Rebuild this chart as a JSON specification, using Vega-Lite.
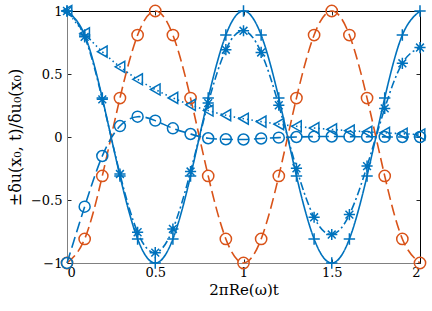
{
 "$schema": "https://vega.github.io/schema/vega-lite/v6.json",
 "width": 353, "height": 252,
 "autosize": "none",
 "padding": {"left": 67, "top": 11, "right": 12, "bottom": 48},
 "background": "white",
 "config": {"view": {"stroke": null}, "axis": {"labelFont": "DejaVu Serif", "titleFont": "DejaVu Serif", "labelFontSize": 13, "titleFontSize": 15, "labelColor": "#000", "titleColor": "#000", "titleFontWeight": "normal", "grid": false, "tickColor": "#262626", "tickWidth": 1}},
 "data": {"values": [
  {"t":0,"a":1,"b":-1,"c":1,"d":1,"e":-1},
  {"t":0.1,"a":0.809,"b":-0.809,"c":0.795,"d":0.823,"e":-0.553},
  {"t":0.2,"a":0.309,"b":-0.309,"c":0.299,"d":0.677,"e":-0.151},
  {"t":0.3,"a":-0.309,"b":0.309,"c":-0.294,"d":0.557,"e":0.087},
  {"t":0.4,"a":-0.809,"b":0.809,"c":-0.756,"d":0.458,"e":0.161},
  {"t":0.5,"a":-1,"b":1,"c":-0.918,"d":0.377,"e":0.13},
  {"t":0.6,"a":-0.809,"b":0.809,"c":-0.73,"d":0.31,"e":0.069},
  {"t":0.7,"a":-0.309,"b":0.309,"c":-0.274,"d":0.255,"e":0.024},
  {"t":0.8,"a":0.309,"b":-0.309,"c":0.269,"d":0.21,"e":-0.01},
  {"t":0.9,"a":0.809,"b":-0.809,"c":0.693,"d":0.173,"e":-0.018},
  {"t":1.0,"a":1,"b":-1,"c":0.843,"d":0.145,"e":-0.02},
  {"t":1.1,"a":0.809,"b":-0.809,"c":0.671,"d":0.122,"e":-0.012},
  {"t":1.2,"a":0.309,"b":-0.309,"c":0.252,"d":0.102,"e":-0.005},
  {"t":1.3,"a":-0.309,"b":0.309,"c":-0.248,"d":0.085,"e":0},
  {"t":1.4,"a":-0.809,"b":0.809,"c":-0.637,"d":0.071,"e":0.003},
  {"t":1.5,"a":-1,"b":1,"c":-0.774,"d":0.06,"e":0.004},
  {"t":1.6,"a":-0.809,"b":0.809,"c":-0.616,"d":0.05,"e":0.003},
  {"t":1.7,"a":-0.309,"b":0.309,"c":-0.231,"d":0.041,"e":0.002},
  {"t":1.8,"a":0.309,"b":-0.309,"c":0.227,"d":0.033,"e":0.001},
  {"t":1.9,"a":0.809,"b":-0.809,"c":0.585,"d":0.026,"e":0},
  {"t":2.0,"a":1,"b":-1,"c":0.71,"d":0.02,"e":0}
 ]},
 "transform": [{"fold": ["a","b","c","d","e"], "as": ["s","y"]}],
 "layer": [
  {"mark": {"type": "line", "interpolate": "natural", "strokeWidth": 1.6},
   "encoding": {
    "x": {"field": "t", "type": "quantitative", "scale": {"domain": [0, 2], "nice": false},
          "axis": {"orient": "bottom", "values": [0, 0.5, 1, 1.5, 2], "format": "~g", "title": "2πRe(ω)t", "domainColor": "#808080", "tickSize": -4, "labelPadding": 7, "titlePadding": 3}},
    "y": {"field": "y", "type": "quantitative", "scale": {"domain": [-1, 1], "nice": false},
          "axis": {"orient": "left", "values": [-1, -0.5, 0, 0.5, 1], "format": "~g", "title": "±δu(x₀, t)/δu₀(x₀)", "titleFontSize": 16, "domainColor": "#808080", "tickSize": -4, "labelPadding": 9, "titlePadding": 7}},
    "color": {"field": "s", "type": "nominal", "scale": {"domain": ["a","b","c","d","e"], "range": ["#0072BD","#D95319","#0072BD","#0072BD","#0072BD"]}, "legend": null},
    "strokeDash": {"field": "s", "type": "nominal", "scale": {"domain": ["a","b","c","d","e"], "range": [[1,0],[11,5],[8,3,2,3],[1.5,3],[11,5]]}, "legend": null}
   }},
  {"mark": {"type": "point", "filled": false, "strokeWidth": 1.5, "opacity": 1},
   "encoding": {
    "x": {"field": "t", "type": "quantitative", "axis": null},
    "y": {"field": "y", "type": "quantitative", "axis": null},
    "color": {"field": "s", "type": "nominal", "legend": null},
    "shape": {"field": "s", "type": "nominal", "scale": {"domain": ["a","b","c","d","e"], "range": ["M-1,0L1,0M0,-1L0,1", "circle", "M-1,0L1,0M0,-1L0,1M-0.7,-0.7L0.7,0.7M-0.7,0.7L0.7,-0.7", "triangle-left", "circle"]}, "legend": null},
    "size": {"field": "s", "type": "nominal", "scale": {"domain": ["a","b","c","d","e"], "range": [130, 120, 90, 120, 120]}, "legend": null}
   }},
  {"mark": {"type": "point", "opacity": 0},
   "encoding": {
    "x": {"field": "t", "type": "quantitative", "axis": {"orient": "top", "values": [0, 0.5, 1, 1.5, 2], "labels": false, "title": null, "domainColor": "#000", "tickSize": -4}},
    "y": {"field": "y", "type": "quantitative", "axis": {"orient": "right", "values": [-1, -0.5, 0, 0.5, 1], "labels": false, "title": null, "domainColor": "#000", "tickSize": -4}}
   }}
 ],
 "resolve": {"axis": {"x": "independent", "y": "independent"}}
}
